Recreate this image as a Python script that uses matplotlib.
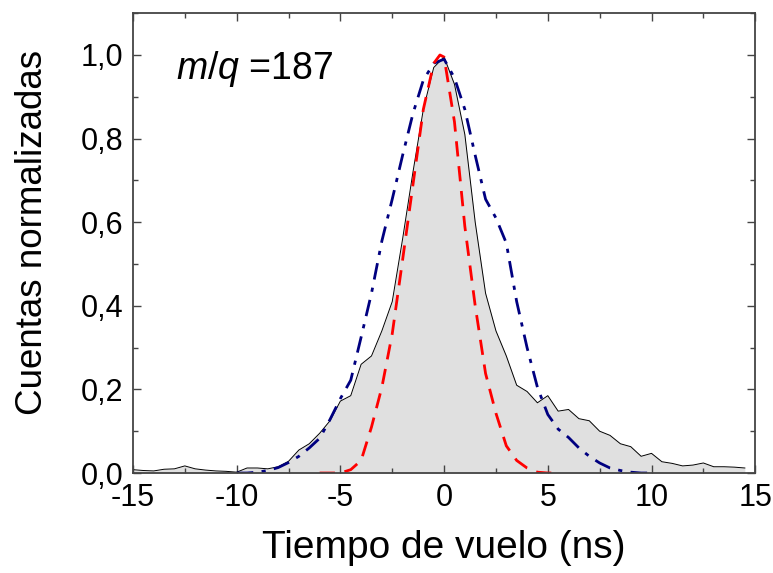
import numpy as np
import matplotlib
matplotlib.use("Agg")
import matplotlib.pyplot as plt
from matplotlib.ticker import MultipleLocator, FuncFormatter

plt.rcParams['font.family'] = ['Liberation Sans', 'DejaVu Sans']
plt.rcParams['mathtext.fontset'] = 'custom'
plt.rcParams['mathtext.it'] = 'Liberation Sans:italic'
plt.rcParams['mathtext.rm'] = 'Liberation Sans'

# experimental time-of-flight histogram (normalised)
t_exp = [-15, -14.5, -14, -13.5, -13, -12.5, -12, -11.5, -11, -10.5,
         -10, -9.5, -9, -8.5, -8, -7.5, -7, -6.5, -6, -5.5,
         -5, -4.5, -4, -3.5, -3, -2.5, -2, -1.5, -1, -0.5,
         0, 0.5, 1, 1.5, 2, 2.5, 3, 3.5, 4, 4.5,
         5, 5.5, 6, 6.5, 7, 7.5, 8, 8.5, 9, 9.5,
         10, 10.5, 11, 11.5, 12, 12.5, 13, 13.5, 14, 14.5]
y_exp = [0.008, 0.006, 0.005, 0.009, 0.010, 0.017, 0.010, 0.007, 0.005, 0.004,
         0.002, 0.012, 0.012, 0.010, 0.015, 0.028, 0.055, 0.070, 0.095, 0.125,
         0.172, 0.185, 0.260, 0.280, 0.340, 0.410, 0.560, 0.720, 0.870, 0.970,
         0.995, 0.930, 0.810, 0.600, 0.430, 0.340, 0.280, 0.210, 0.195, 0.168,
         0.185, 0.148, 0.152, 0.130, 0.125, 0.100, 0.090, 0.070, 0.063, 0.040,
         0.047, 0.027, 0.023, 0.017, 0.019, 0.024, 0.015, 0.015, 0.014, 0.012]

# simulation 1 (dash-dot, navy)
t_sim1 = [-10, -9.5, -9, -8.5, -8, -7.5, -7, -6.5, -6, -5.5,
          -5, -4.5, -4, -3.5, -3, -2.5, -2, -1.5, -1, -0.5,
          0, 0.5, 1, 1.5, 2, 2.5, 3, 3.5, 4, 4.5,
          5, 5.5, 6, 6.5, 7, 7.5, 8, 8.5, 9, 9.5, 10]
y_sim1 = [0.0, 0.0, 0.002, 0.006, 0.013, 0.025, 0.040, 0.060, 0.083, 0.128,
          0.178, 0.222, 0.325, 0.430, 0.555, 0.655, 0.760, 0.860, 0.940, 0.980,
          0.990, 0.945, 0.870, 0.760, 0.655, 0.610, 0.550, 0.410, 0.300, 0.205,
          0.140, 0.105, 0.085, 0.060, 0.040, 0.024, 0.012, 0.006, 0.002, 0.0, 0.0]

# simulation 2 (dashed, red)
t_sim2 = [-6, -5.5, -5, -4.5, -4, -3.5, -3, -2.5, -2, -1.5,
          -1, -0.5, -0.2, 0, 0.5, 1, 1.5, 2, 2.5, 3,
          3.5, 4, 4.5, 5, 5.2]
y_sim2 = [0.0, 0.0, 0.0, 0.008, 0.030, 0.110, 0.205, 0.333, 0.510, 0.690,
          0.870, 0.980, 1.000, 0.995, 0.840, 0.590, 0.400, 0.238, 0.143, 0.065,
          0.030, 0.012, 0.002, 0.0, 0.0]

fig = plt.figure(figsize=(7.73, 5.73), dpi=100)
ax = fig.add_axes([0.172, 0.1745, 0.805, 0.8025])

ax.fill_between(t_exp, y_exp, 0, color='#e0e0e0', linewidth=0)
ax.plot(t_exp, y_exp, color='black', lw=0.7)
ax.plot(t_sim1, y_sim1, color='#000080', lw=2, linestyle=(0, (6, 3, 1.5, 3)))
ax.plot(t_sim2, y_sim2, color='#ff0000', lw=2, linestyle=(0, (5.5, 3.5)))

ax.text(-12.93, 0.943, r'$m/q$ =187', fontsize=27, ha='left', va='baseline')

ax.set_xlim(-15, 15)
ax.set_ylim(0, 1.1)
ax.xaxis.set_major_locator(MultipleLocator(5))
ax.xaxis.set_minor_locator(MultipleLocator(2.5))
ax.yaxis.set_major_locator(MultipleLocator(0.2))
ax.yaxis.set_minor_locator(MultipleLocator(0.1))
ax.yaxis.set_major_formatter(FuncFormatter(lambda v, p: f"{v:.1f}".replace('.', ',')))
ax.xaxis.set_major_formatter(FuncFormatter(lambda v, p: f"{v:.0f}"))

ax.tick_params(which='both', direction='in', top=True, right=True, colors='#444444',
               labelcolor='black', labelsize=22)
ax.tick_params(which='major', length=6, width=1, pad=7)
ax.tick_params(which='minor', length=3.5, width=1)
for s in ax.spines.values():
    s.set_color('#444444')
    s.set_linewidth(1.3)

ax.set_xlabel('Tiempo de vuelo (ns)', fontsize=28)
ax.set_ylabel('Cuentas normalizadas', fontsize=26.5)
ax.xaxis.set_label_coords(0.5, -0.1236)
ax.yaxis.set_label_coords(-0.133, 0.523)

fig.savefig('out.png', dpi=100)
